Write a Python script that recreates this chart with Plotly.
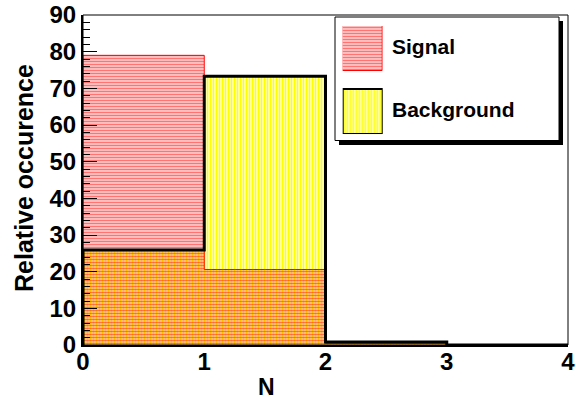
import plotly.graph_objects as go

# Histogram contents (percent per bin of N)
bin_edges = [0, 1, 2, 3, 4]
signal = [79.0, 20.6, 0.4, 0.0]
background = [25.9, 73.3, 0.8, 0.0]
legend_labels = ["Signal", "Background"]

FONT = "Liberation Sans, Arial, sans-serif"
W, H = 576, 401
L, R, T, B = 83, 8, 15, 56
PW, PH = W - L - R, H - T - B


def px_x(p):
    return (p - L) / PW


def px_y(p):
    return (H - B - p) / PH


def step_path(edges, vals):
    xs, ys = [edges[0]], [0]
    for i, v in enumerate(vals):
        xs += [edges[i], edges[i + 1]]
        ys += [v, v]
    xs.append(edges[-1])
    ys.append(0)
    return xs, ys


centers = [(bin_edges[i] + bin_edges[i + 1]) / 2 for i in range(len(signal))]
widths = [bin_edges[i + 1] - bin_edges[i] for i in range(len(signal))]

fig = go.Figure()

# Background: yellow vertical hatching
fig.add_trace(go.Bar(
    x=centers, y=background, width=widths,
    marker=dict(color="rgba(0,0,0,0)", line=dict(width=0),
                pattern=dict(shape="|", fgcolor="#ffff00", bgcolor="rgba(0,0,0,0)",
                             size=3, solidity=0.6, fillmode="replace")),
    showlegend=False, hoverinfo="skip",
))
# Signal: red horizontal hatching
fig.add_trace(go.Bar(
    x=centers, y=signal, width=widths,
    marker=dict(color="rgba(0,0,0,0)", line=dict(width=0),
                pattern=dict(shape="-", fgcolor="#ff0000", fgopacity=0.55,
                             bgcolor="rgba(0,0,0,0)", size=3, solidity=0.65,
                             fillmode="replace")),
    showlegend=False, hoverinfo="skip",
))

# Histogram outlines
sx, sy = step_path(bin_edges, signal)
fig.add_trace(go.Scatter(x=sx, y=sy, mode="lines", line=dict(color="#ff0000", width=1),
                         showlegend=False, hoverinfo="skip"))
bx, by = step_path(bin_edges, background)
fig.add_trace(go.Scatter(x=bx, y=by, mode="lines", line=dict(color="black", width=3),
                         showlegend=False, hoverinfo="skip"))

# Legend swatches on their own small axes
fig.add_trace(go.Bar(
    x=[0.5], y=[45], base=[0], width=[1], xaxis="x2", yaxis="y2",
    marker=dict(color="rgba(0,0,0,0)", line=dict(color="black", width=2),
                pattern=dict(shape="|", fgcolor="#ffff00", bgcolor="white",
                             size=3, solidity=0.6, fillmode="replace")),
    showlegend=False, hoverinfo="skip",
))
fig.add_trace(go.Bar(
    x=[0.5], y=[45], base=[63], width=[1], xaxis="x2", yaxis="y2",
    marker=dict(color="rgba(0,0,0,0)", line=dict(color="#ff0000", width=1),
                pattern=dict(shape="-", fgcolor="#ff0000", fgopacity=0.55,
                             bgcolor="white", size=3, solidity=0.65, fillmode="replace")),
    showlegend=False, hoverinfo="skip",
))

shapes = [
    # legend shadow and box
    dict(type="rect", xref="paper", yref="paper",
         x0=px_x(339), x1=px_x(563), y0=px_y(145), y1=px_y(21),
         fillcolor="black", line=dict(width=0), layer="below"),
    dict(type="rect", xref="paper", yref="paper",
         x0=px_x(335), x1=px_x(559), y0=px_y(140.5), y1=px_y(17),
         fillcolor="white", line=dict(color="black", width=1), layer="below"),
    # frame
    dict(type="rect", xref="paper", yref="paper", x0=0, x1=1, y0=0, y1=1,
         line=dict(color="black", width=1), layer="above"),
]

annotations = [
    dict(text=legend_labels[0], xref="paper", yref="paper", x=px_x(390), y=px_y(47),
         xanchor="left", yanchor="middle", showarrow=False,
         font=dict(family=FONT, size=21, color="black", weight="bold")),
    dict(text=legend_labels[1], xref="paper", yref="paper", x=px_x(390), y=px_y(110),
         xanchor="left", yanchor="middle", showarrow=False,
         font=dict(family=FONT, size=21, color="black", weight="bold")),
    dict(text="Relative occurence", xref="paper", yref="paper", x=px_x(24), y=px_y(178),
         xanchor="center", yanchor="middle", textangle=-90, showarrow=False,
         font=dict(family=FONT, size=25, color="black", weight="bold")),
    dict(text="N", xref="paper", yref="paper", x=px_x(266), y=px_y(387),
         xanchor="center", yanchor="middle", showarrow=False,
         font=dict(family=FONT, size=23, color="black", weight="bold")),
]

tickfont = dict(family=FONT, size=24, color="black", weight="bold")

fig.update_layout(
    width=W, height=H, autosize=False,
    margin=dict(l=L, r=R, t=T, b=B, pad=0, autoexpand=False),
    paper_bgcolor="white", plot_bgcolor="rgba(0,0,0,0)",
    barmode="overlay", bargap=0,
    showlegend=False,
    shapes=shapes, annotations=annotations,
    xaxis=dict(range=[0, 4], tickvals=bin_edges, ticks="", showgrid=False,
               zeroline=False, showline=True, linecolor="black", linewidth=2,
               tickfont=tickfont, automargin=False, ticklabelstandoff=-6,
               fixedrange=True),
    yaxis=dict(range=[0, 90], dtick=10, tick0=0, ticks="inside", ticklen=14,
               tickwidth=1, tickcolor="black", showgrid=False, zeroline=False,
               showline=True, linecolor="black", linewidth=2, tickfont=tickfont,
               automargin=False, ticklabelstandoff=0,
               minor=dict(ticks="inside", dtick=2, ticklen=7, tickwidth=1,
                          tickcolor="black", showgrid=False),
               fixedrange=True),
    xaxis2=dict(domain=[px_x(342.7), px_x(382.7)], range=[0, 1], anchor="y2",
                visible=False, automargin=False, fixedrange=True),
    yaxis2=dict(domain=[px_y(134), px_y(26)], range=[0, 108], anchor="x2",
                visible=False, automargin=False, fixedrange=True),
)

fig.write_html("out.html")
